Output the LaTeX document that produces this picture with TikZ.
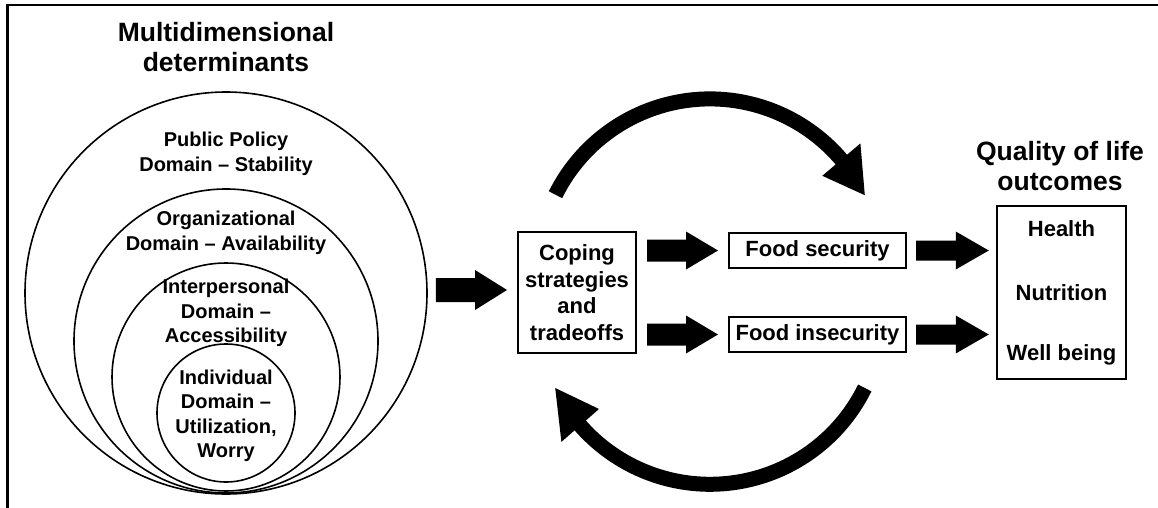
\documentclass[tikz,border=0pt]{standalone}
\usepackage{fontspec}
\setmainfont{Liberation Sans}
\usetikzlibrary{calc}
\newcommand{\barrow}[5]{% start, end, shaft half, head half, head length
  \fill let \p1=(#1), \p2=(#2) in
    (\x1,\y1+#3) -- (\x2-#5,\y1+#3) -- (\x2-#5,\y1+#4) -- (\x2,\y1)
    -- (\x2-#5,\y1-#4) -- (\x2-#5,\y1-#3) -- (\x1,\y1-#3) -- cycle;}
\begin{document}
\begin{tikzpicture}[x=1pt,y=-1pt,
  ring/.style={circle,draw,line width=1.6pt,inner sep=0pt},
  ttl/.style={align=center,inner sep=0pt,font=\fontsize{26.5}{30.5}\selectfont\bfseries},
  lab/.style={align=center,inner sep=0pt,font=\fontsize{20}{24.5}\selectfont\bfseries},
  mid/.style={align=center,inner sep=0pt,font=\fontsize{22}{26.7}\selectfont\bfseries},
  box/.style={draw,line width=2pt,inner sep=0pt,align=center,font=\fontsize{22}{26.7}\selectfont\bfseries},
  curv/.style={line width=15pt}
]
\useasboundingbox (0,0) rectangle (1158,508);
% frame
\draw[line width=2.2pt] (7.5,508) -- (7.5,5.3) -- (1158,5.3);

% nested circles
\node[ring,minimum size=402pt] (c1) at (226,293) {};
\node[ring,minimum size=304pt] (c2) at (226,341) {};
\node[ring,minimum size=228pt] (c3) at (226,377) {};
\node[ring,minimum size=138pt] (c4) at (226,413) {};

\node[ttl] (t1) at (226,47) {Multidimensional\\determinants};
\node[lab] (l1) at (226,154) {Public Policy\\Domain \textendash{} Stability};
\node[lab] (l2) at (226,233) {Organizational\\Domain \textendash{} Availability};
\node[lab] (l3) at (226,313) {Interpersonal\\Domain \textendash\\Accessibility};
\node[lab] (l4) at (226,416) {Individual\\Domain \textendash\\Utilization,\\Worry};

% middle boxes
\node[box,minimum width=118pt,minimum height=121pt] (cope) at (577,292.5) {Coping\\strategies\\and\\tradeoffs};
\node[box,minimum width=177pt,minimum height=35pt] (fs) at (817.5,250.5) {Food security};
\node[box,minimum width=177pt,minimum height=35pt] (fi) at (817.5,334.5) {Food insecurity};

% outcomes
\node[ttl] (t2) at (1060,166) {Quality of life\\outcomes};
\node[draw,line width=2.5pt,minimum width=129pt,minimum height=173pt,inner sep=0pt] (out) at (1061.5,292.5) {};
\node[mid] (h) at (1061.5,229) {Health};
\node[mid] (n) at (1061.5,293) {Nutrition};
\node[mid] (w) at (1061.5,355) {Well being};

% block arrows
\coordinate (a0s) at ($(c1.east)+(8,-3)$);
\coordinate (a0e) at ($(cope.west)+(-10,0)$);
\barrow{a0s}{a0e}{12pt}{20pt}{32pt}
\coordinate (a1s) at ($(cope.east |- fs.west)+(10,0)$);
\coordinate (a1e) at ($(fs.west)+(-10,0)$);
\barrow{a1s}{a1e}{11pt}{19pt}{32pt}
\coordinate (a2s) at ($(cope.east |- fi.west)+(10,0)$);
\coordinate (a2e) at ($(fi.west)+(-10,0)$);
\barrow{a2s}{a2e}{11pt}{19pt}{32pt}
\coordinate (a3s) at ($(fs.east)+(9,0)$);
\coordinate (a3e) at ($(out.west |- fs.east)+(-7,0)$);
\barrow{a3s}{a3e}{10pt}{19pt}{33pt}
\coordinate (a4s) at ($(fi.east)+(9,0)$);
\coordinate (a4e) at ($(out.west |- fi.east)+(-7,0)$);
\barrow{a4s}{a4e}{10pt}{19pt}{33pt}

% cycle arrows
\draw[curv] (710,271.4) ++(-153.6:172.5) arc[start angle=153.6,end angle=39.5,radius=172.5pt];
\fill (864.8,195.2) -- (860.4,143.4) -- (822.3,175.8) -- cycle;
\draw[curv] (710,311.8) ++(26.2:172.5) arc[start angle=-26.2,end angle=-139.8,radius=172.5pt];
\fill (555.2,388) -- (561.4,441.9) -- (599,409) -- cycle;
\end{tikzpicture}
\end{document}
